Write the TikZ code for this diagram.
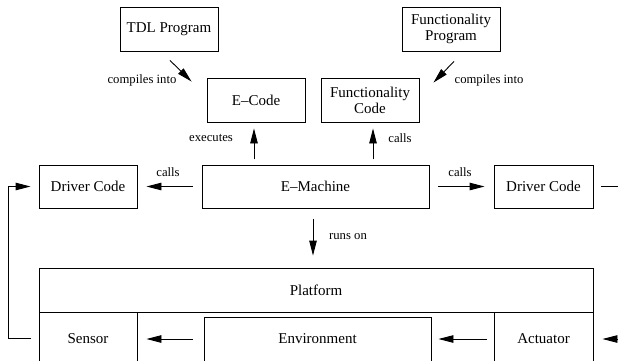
\documentclass[tikz,border=0pt]{standalone}
\usepackage{fontspec}
\setmainfont{Liberation Serif}
\usetikzlibrary{calc,arrows.meta}
\begin{document}
\begin{tikzpicture}[x=1pt,y=-1pt,
  box/.style={draw,line width=0.9pt,inner sep=0pt,align=center,font=\fontsize{15}{16}\selectfont},
  lbl/.style={inner sep=0pt,font=\fontsize{12.7}{14}\selectfont},
  arr/.style={line width=0.9pt,-{Triangle[length=15pt,width=7.5pt]}},
  plain/.style={line width=0.9pt}]
\useasboundingbox (0,0) rectangle (618,360);
\clip (0,0) rectangle (618,360);
\fill[white] (0,0) rectangle (618,360);
% top row
\node[box,minimum width=98pt,minimum height=44pt] (tdl) at (169,29) {TDL Program};
\node[box,minimum width=98pt,minimum height=44pt] (fprog) at (451,29) {Functionality\\Program};
% code row
\node[box,minimum width=98pt,minimum height=44pt] (ecode) at (256,100) {E--Code};
\node[box,minimum width=98pt,minimum height=44pt] (fcode) at (370,100) {Functionality\\Code};
% machine row
\node[box,minimum width=98pt,minimum height=43pt] (drvL) at (88,186.5) {Driver Code};
\node[box,minimum width=227pt,minimum height=43pt] (emach) at (315.5,186.5) {E--Machine};
\node[box,minimum width=99pt,minimum height=43pt] (drvR) at (543.5,186.5) {Driver Code};
% platform
\node[box,minimum width=554pt,minimum height=44pt] (platform) at (316,290) {Platform};
% bottom row
\node[box,minimum width=98pt,minimum height=54pt] (sensor) at (88,339) {Sensor};
\node[box,minimum width=227pt,minimum height=44pt] (env) at (317.5,339) {Environment};
\node[box,minimum width=99pt,minimum height=54pt] (act) at (543.5,339) {Actuator};
% compile arrows
\draw[arr] ($(tdl.south)+(1,9)$) -- ($(ecode.north west)+(-15,4)$);
\node[lbl] (lc1) at (142,80) {compiles into};
\draw[arr] ($(fprog.south)+(3,10)$) -- ($(fcode.north east)+(14,5)$);
\node[lbl] (lc2) at (489,80) {compiles into};
% executes / calls up
\draw[arr] ($(ecode.south)+(-2,37)$) -- ($(ecode.south)+(-2,6)$);
\node[lbl] (lex) at (211,138) {executes};
\draw[arr] ($(fcode.south)+(3,37)$) -- ($(fcode.south)+(3,6)$);
\node[lbl] (lca) at (400,138) {calls};
% calls sideways
\draw[arr,shorten <=9pt,shorten >=9pt] (emach.west) -- (drvL.east);
\node[lbl] (lcl) at (168,172) {calls};
\draw[arr,shorten <=9pt,shorten >=9pt] (emach.east) -- (drvR.west);
\node[lbl] (lcr) at (460,172) {calls};
\draw[plain] ($(drvR.east)+(8,0)$) -- ++(40,0);
% runs on
\draw[arr] ($(emach.south)+(-2.5,11)$) -- ($(platform.north)+(-3,-12)$);
\node[lbl] (lro) at (348,237) {runs on};
% bottom arrows
\draw[arr,shorten <=11pt,shorten >=9pt] (env.west) -- (sensor.east);
\draw[arr,shorten <=7pt,shorten >=7pt] (act.west) -- (env.east);
\draw[arr,shorten >=9pt] ($(act.east)+(40,0)$) -- (act.east);
% feedback
\draw[arr] ($(sensor.west)+(-8,-1)$) -- ++(-22,0) |- ($(drvL.west)+(-8,0)$);
\end{tikzpicture}
\end{document}
